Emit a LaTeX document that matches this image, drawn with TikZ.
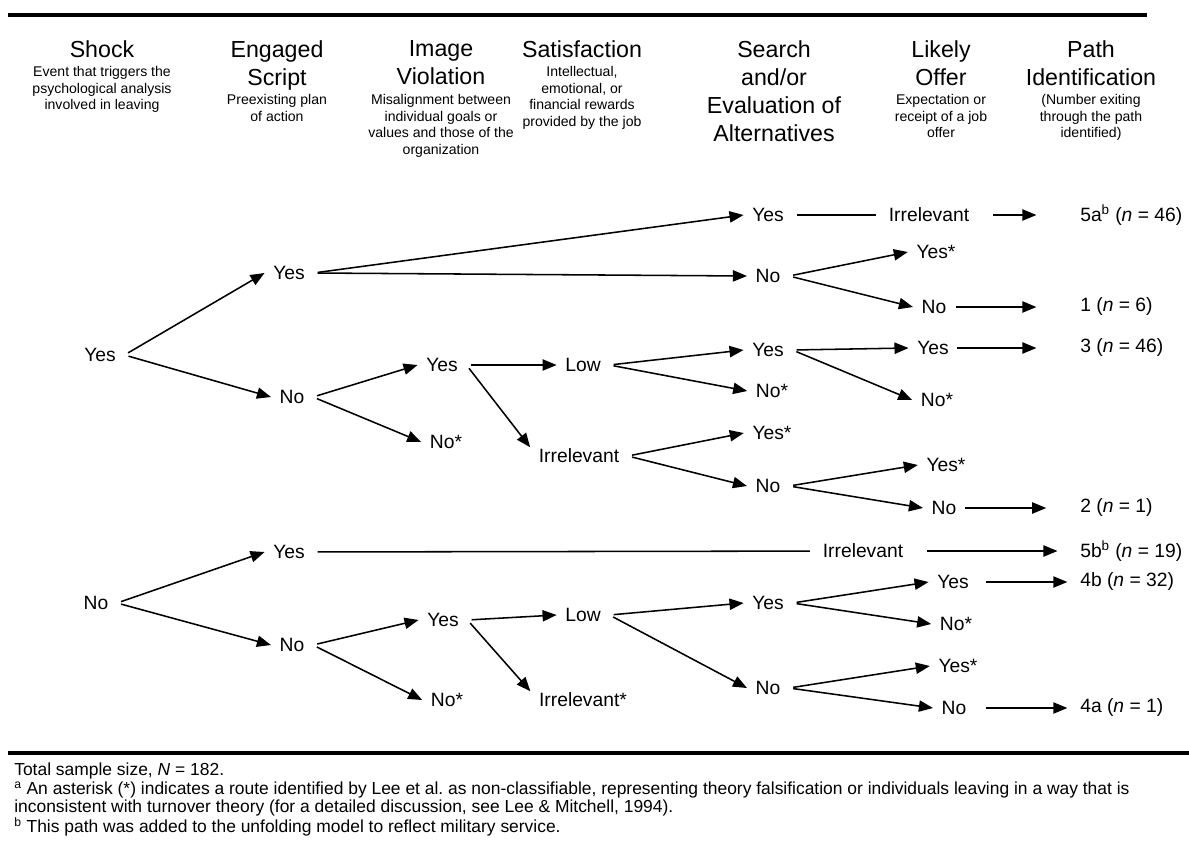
\documentclass[tikz,border=0pt]{standalone}
\usepackage{fontspec}
\setmainfont{Liberation Sans}
\usetikzlibrary{arrows.meta}
\frenchspacing

\tikzset{
  hd/.style={font=\fontsize{16.5}{20}\selectfont, align=center, inner sep=0pt, anchor=north},
  hdsub/.style={font=\fontsize{10}{11.8}\selectfont, align=center, inner sep=0pt, anchor=north},
  lbl/.style={font=\fontsize{13.7}{16}\selectfont, inner xsep=6pt, inner ysep=1pt},
  res/.style={font=\fontsize{13.7}{16}\selectfont, inner sep=0pt, anchor=west},
  br/.style={-{Triangle[length=10pt,width=8pt]}, line width=1.1pt, shorten <=3pt},
  ln/.style={line width=1.1pt, shorten <=3pt, shorten >=3pt},
  rule/.style={line width=3.3pt},
}

\begin{document}
\begin{tikzpicture}[x=0.025cm,y=-0.025cm]
\useasboundingbox (0,0) rectangle (1189,842);

\draw[rule] (8,15) -- (1147,15);
\draw[rule] (8,753) -- (1189,753);

% column heads
\node[hd] (shock) at (102,40) {Shock};
\node[hdsub] (shockd) at (102,66) {Event that triggers the\\psychological analysis\\involved in leaving};
\node[hd] (script) at (277,40) {Engaged\\Script};
\node[hdsub] (scriptd) at (277,94) {Preexisting plan\\of action};
\node[hd] (image) at (441,40) {Image\\Violation};
\node[hdsub] (imaged) at (441,94) {Misalignment between\\individual goals or\\values and those of the\\organization};
\node[hd] (satis) at (582,40) {Satisfaction};
\node[hdsub] (satisd) at (582,66) {Intellectual,\\emotional, or\\financial rewards\\provided by the job};
\node[hd] (search) at (774,40) {Search\\and/or\\Evaluation of\\Alternatives};
\node[hd] (offer) at (941,40) {Likely\\Offer};
\node[hdsub] (offerd) at (941,94) {Expectation or\\receipt of a job\\offer};
\node[hd] (path) at (1091,40) {Path\\Identification};
\node[hdsub] (pathd) at (1091,94) {(Number exiting\\through the path\\identified)};

% shock
\node[lbl] (a1) at (100,355) {Yes};
\node[lbl] (a2) at (96,603) {No};
% engaged script
\node[lbl] (b1) at (289,273) {Yes};
\node[lbl] (b2) at (292,397) {No};
\node[lbl] (b3) at (289,552) {Yes};
\node[lbl] (b4) at (292,645) {No};
% image violation
\node[lbl] (c1) at (442,365) {Yes};
\node[lbl] (c2) at (446,442) {No*};
\node[lbl] (c3) at (443,620) {Yes};
\node[lbl] (c4) at (447,700) {No*};
% satisfaction
\node[lbl] (d1) at (583,365) {Low};
\node[lbl] (d2) at (579,456) {Irrelevant};
\node[lbl] (d3) at (583,615) {Low};
\node[lbl] (d4) at (583,700) {Irrelevant*};
% search
\node[lbl] (e1) at (768,215) {Yes};
\node[lbl] (e2) at (768,276) {No};
\node[lbl] (e3) at (768,350) {Yes};
\node[lbl] (e4) at (772,391) {No*};
\node[lbl] (e5) at (772,433) {Yes*};
\node[lbl] (e6) at (768,486) {No};
\node[lbl] (e7) at (768,603) {Yes};
\node[lbl] (e8) at (768,688) {No};
% likely offer
\node[lbl] (f0) at (929,215) {Irrelevant};
\node[lbl] (f1) at (936,252) {Yes*};
\node[lbl] (f2) at (934,307) {No};
\node[lbl] (f3) at (933,348) {Yes};
\node[lbl] (f4) at (937,400) {No*};
\node[lbl] (f5) at (946,465) {Yes*};
\node[lbl] (f6) at (944,508) {No};
\node[lbl] (f7) at (863,551) {Irrelevant};
\node[lbl] (f8) at (953,582) {Yes};
\node[lbl] (f9) at (956,624) {No*};
\node[lbl] (f10) at (958,666) {Yes*};
\node[lbl] (f11) at (954,708) {No};
% path identification
\node[res] (g1) at (1080,215) {5a\textsuperscript{b} (\textit{n} = 46)};
\node[res] (g2) at (1080,307) {1 (\textit{n} = 6)};
\node[res] (g3) at (1080,348) {3 (\textit{n} = 46)};
\node[res] (g4) at (1080,508) {2 (\textit{n} = 1)};
\node[res] (g5) at (1080,551) {5b\textsuperscript{b} (\textit{n} = 19)};
\node[res] (g6) at (1080,582) {4b (\textit{n} = 32)};
\node[res] (g7) at (1080,708) {4a (\textit{n} = 1)};

\foreach \s/\t in {a1/b1,a1/b2,b1/e1,b1/e2,e2/f1,e2/f2,b2/c1,b2/c2,c1/d1,
  d1/e3,d1/e4,e3/f3,e3/f4,d2/e5,d2/e6,e6/f5,e6/f6,a2/b3,a2/b4,b4/c3,b4/c4,
  c3/d3,d3/e7,d3/e8,e7/f8,e7/f9,e8/f10,e8/f11}
  \draw[br] (\s.east) -- (\t.west);
\draw[br] (c1.east) -- (d2.north west);
\draw[br] (c3.east) -- (d4.north west);

\draw[ln] (e1) -- (f0);
\draw[ln] (b3) -- (f7);

\draw[br,shorten <=11pt,shorten >=31pt] (f0) -- (g1);
\draw[br,shorten <=1pt,shorten >=31pt] (f2) -- (g2);
\draw[br,shorten <=0pt,shorten >=31pt] (f3) -- (g3);
\draw[br,shorten <=0pt,shorten >=24pt] (f6) -- (g4);
\draw[br,shorten <=11pt,shorten >=16pt] (f7) -- (g5);
\draw[br,shorten <=6pt,shorten >=9pt] (f8) -- (g6);
\draw[br,shorten <=8pt,shorten >=9pt] (f11) -- (g7);

% notes
\node[font=\fontsize{12.4}{13}\selectfont, align=left, inner sep=0pt, anchor=north west] (notes) at (14,763)
  {Total sample size, \textit{N} = 182.\\
   \textsuperscript{a} An asterisk (*) indicates a route identified by Lee et al. as non-classifiable, representing theory falsification or individuals leaving in a way that is\\
   inconsistent with turnover theory (for a detailed discussion, see Lee \& Mitchell, 1994).\\
   \textsuperscript{b} This path was added to the unfolding model to reflect military service.};
\end{tikzpicture}
\end{document}
